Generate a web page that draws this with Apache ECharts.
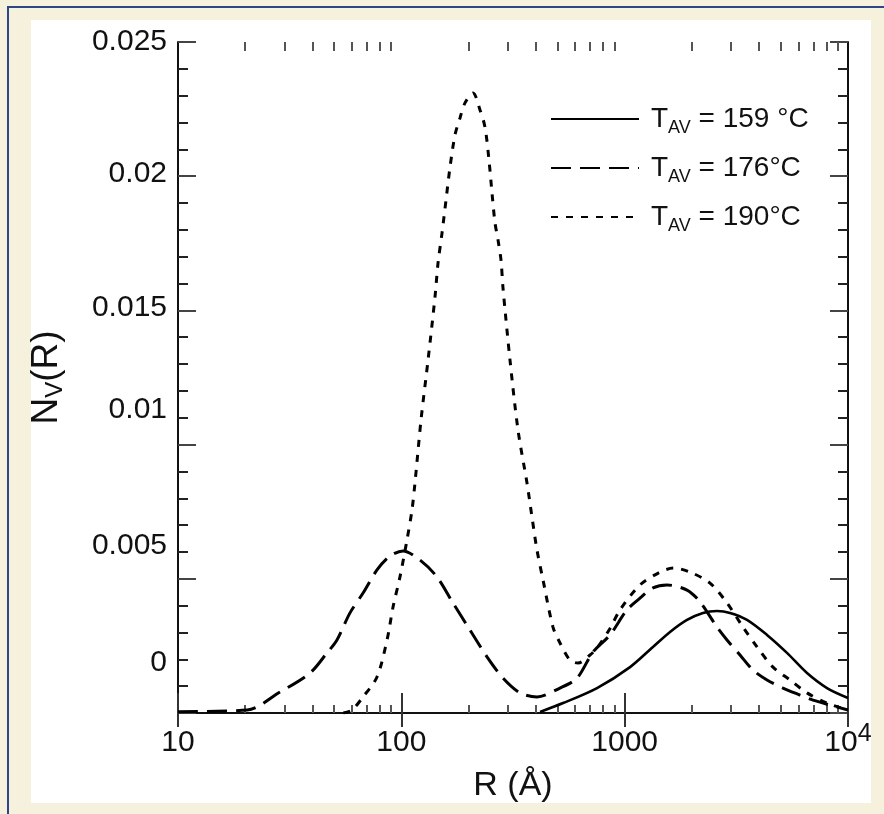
<!DOCTYPE html>
<html>
<head>
<meta charset="UTF-8">
<title>Nv(R) distribution</title>
<script src="https://cdn.jsdelivr.net/npm/echarts@6/dist/echarts.min.js"></script>
<style>
  html, body { margin: 0; padding: 0; width: 884px; height: 814px; background: #f6f1dd; overflow: hidden; }
  #frame { position: absolute; left: 7px; top: 6px; width: 890px; height: 820px;
           border-top: 2px solid #2e4686; border-left: 2px solid #2e4686; }
  #panel { position: absolute; left: 31px; top: 20px; width: 840px; height: 783px; background: #fff; }
  #container { position: absolute; left: 0; top: 0; width: 884px; height: 814px; }
</style>
</head>
<body>
<div id="frame"></div>
<div id="panel"></div>
<div id="container"></div>
<script>
// legend texts
var seriesNames = ['T{sub|AV} = 159 °C', 'T{sub|AV} = 176°C', 'T{sub|AV} = 190°C'];

// [R (Å), Nv(R)]
var solid159 = [
  [418, 0.00004], [530, 0.00037], [752, 0.00093], [1057, 0.00171], [1339, 0.00246],
  [1596, 0.00302], [1902, 0.00347], [2242, 0.00373], [2591, 0.0038], [2962, 0.00373],
  [3530, 0.00347], [4338, 0.00291], [5332, 0.00224], [6553, 0.00149], [8054, 0.00093],
  [10000, 0.00056]
];
var dashed176 = [
  [10, 0.00005], [20.4, 0.00011], [28.6, 0.00078], [39, 0.00149], [46.5, 0.00224],
  [51.5, 0.00272], [58.9, 0.00373], [67.4, 0.00447], [77.8, 0.00533], [89, 0.00585],
  [101.7, 0.00604], [121.2, 0.0057], [144.4, 0.00507], [170.3, 0.0041], [203, 0.00309],
  [241.9, 0.00209], [285.3, 0.0013], [339.9, 0.00075], [405, 0.0006], [513, 0.00093],
  [612, 0.0013], [721, 0.00227], [860, 0.00291], [1024, 0.00384], [1171, 0.00428],
  [1339, 0.00466], [1547, 0.00477], [1902, 0.00458], [2175, 0.00414], [2591, 0.0032],
  [2872, 0.00272], [3284, 0.00216], [3754, 0.0016], [4338, 0.00123], [5116, 0.00093],
  [6097, 0.00067], [6970, 0.00048], [10000, 0.00011]
];
var dotted190 = [
  [55, 0], [60.1, 0.00011], [67.4, 0.0006], [77.8, 0.00134], [86.3, 0.00272],
  [91.8, 0.00395], [98.6, 0.00507], [106, 0.00645], [111.6, 0.00756], [115.1, 0.00857],
  [122.5, 0.01092], [131.7, 0.01315], [141.5, 0.0155], [146, 0.01677], [152.1, 0.01788],
  [158.5, 0.01911], [165.2, 0.02034], [173.9, 0.02154], [183.1, 0.02217], [192.8, 0.02273],
  [209.4, 0.0231], [225, 0.02247], [236.9, 0.02183], [246.9, 0.0206], [254.7, 0.01937],
  [262.7, 0.01826], [271, 0.01762], [279.4, 0.01688], [285.3, 0.01583], [306.6, 0.01315],
  [333, 0.01054], [365.3, 0.00857], [384.6, 0.0073], [405, 0.00607], [430.9, 0.00496],
  [477.6, 0.0032], [513.4, 0.00261], [569.1, 0.00197], [618.1, 0.00186], [699.5, 0.00216],
  [752, 0.00242], [860, 0.00315], [953, 0.00384], [1171, 0.00477], [1440, 0.00525],
  [1655, 0.0054], [1962, 0.00525], [2411, 0.00484], [2872, 0.0041], [3388, 0.0032],
  [3913, 0.00246], [4616, 0.00171], [5500, 0.00123], [6553, 0.00075], [8054, 0.00037],
  [10000, 0.00011]
];

// y tick labels as printed (the figure prints the lower three a little off their ticks)
var yLabelText = ['0.025', '0.02', '0.015', '0.01', '0.005', '0'];
var yLabelAt = [0.025, 0.0201, 0.0151, 0.01129, 0.00622, 0.00186];

var xLabelText = {10: '10', 100: '100', 1000: '1000', 10000: '10{sup|4}'};

// minor log ticks 2..9 per decade, placed on a helper axis in log10 units
var minorLog = [];
for (var d = 1; d < 4; d++) {
  for (var m = 2; m <= 9; m++) minorLog.push(d + Math.log10(m));
}

var font = 'Liberation Sans, Arial, Helvetica, sans-serif';
var axisLine = { show: true, lineStyle: { color: '#111', width: 2 } };

var myChart = echarts.init(document.getElementById('container'), null, { renderer: 'canvas' });

myChart.setOption({
  animation: false,
  backgroundColor: 'transparent',
  grid: { left: 178, top: 42, width: 670, height: 671 },
  legend: {
    left: 545, top: 96, orient: 'vertical',
    itemWidth: 88, itemHeight: 14, itemGap: 13,
    data: seriesNames,
    itemStyle: { opacity: 0 },
    textStyle: {
      fontFamily: font, fontSize: 28, color: '#111', lineHeight: 36, padding: [0, 0, 0, 7],
      rich: { sub: { fontFamily: font, fontSize: 18, verticalAlign: 'bottom', lineHeight: 20 } }
    }
  },
  xAxis: [{
    type: 'log', logBase: 10, min: 10, max: 10000, position: 'bottom',
    axisLine: axisLine,
    axisTick: { inside: true, length: 20, lineStyle: { color: '#333', width: 2 } },
    splitLine: { show: false },
    axisLabel: {
      margin: 9, fontFamily: font, fontSize: 30, color: '#111', lineHeight: 42,
      formatter: function (v) { return xLabelText[Math.round(v)] || ''; },
      rich: { sup: { fontFamily: font, fontSize: 25, verticalAlign: 'top', lineHeight: 22 } }
    },
    name: 'R (Å)', nameLocation: 'middle', nameGap: 50,
    nameTextStyle: { fontFamily: font, fontSize: 34, color: '#111' }
  }, {
    type: 'log', logBase: 10, min: 10, max: 10000, position: 'top',
    axisLine: axisLine,
    axisTick: { inside: true, length: 14, lineStyle: { color: '#333', width: 2 } },
    axisLabel: { show: false }, splitLine: { show: false }
  }, {
    type: 'value', min: 1, max: 4, position: 'bottom',
    axisLine: { show: false },
    axisTick: { inside: true, length: 8, customValues: minorLog, lineStyle: { color: '#555', width: 2 } },
    axisLabel: { show: false }, splitLine: { show: false }
  }, {
    type: 'value', min: 1, max: 4, position: 'top',
    axisLine: { show: false },
    axisTick: { inside: true, length: 9, customValues: minorLog, lineStyle: { color: '#555', width: 2 } },
    axisLabel: { show: false }, splitLine: { show: false }
  }],
  yAxis: [{
    type: 'value', min: 0, max: 0.025, interval: 0.005, position: 'left',
    axisLine: axisLine,
    axisTick: { inside: true, length: 18, lineStyle: { color: '#444', width: 2 } },
    minorTick: { show: true, splitNumber: 5, length: 10, lineStyle: { color: '#222', width: 2 } },
    splitLine: { show: false },
    axisLabel: {
      margin: 11, fontFamily: font, fontSize: 30, color: '#111',
      customValues: yLabelAt,
      formatter: function (v) {
        var best = 0;
        for (var i = 1; i < yLabelAt.length; i++) {
          if (Math.abs(yLabelAt[i] - v) < Math.abs(yLabelAt[best] - v)) best = i;
        }
        return yLabelText[best];
      }
    },
    name: 'N{sub|V}(R)', nameLocation: 'middle', nameRotate: 90, nameGap: 111,
    nameTextStyle: {
      fontFamily: font, fontSize: 37, color: '#111', lineHeight: 40,
      rich: { sub: { fontFamily: font, fontSize: 24, verticalAlign: 'bottom', lineHeight: 22 } }
    }
  }, {
    type: 'value', min: 0, max: 0.025, interval: 0.005, position: 'right',
    axisLine: axisLine,
    axisTick: { inside: true, length: 18, lineStyle: { color: '#444', width: 2 } },
    minorTick: { show: true, splitNumber: 5, length: 10, lineStyle: { color: '#222', width: 2 } },
    splitLine: { show: false },
    axisLabel: { show: false }
  }],
  series: [{
    name: seriesNames[0], type: 'line', data: solid159, smooth: 0.3,
    symbol: 'none', showSymbol: false,
    itemStyle: { color: '#000' },
    lineStyle: { color: '#000', width: 2.6, type: 'solid' }
  }, {
    name: seriesNames[1], type: 'line', data: dashed176, smooth: 0.3,
    symbol: 'none', showSymbol: false,
    itemStyle: { color: '#000' },
    lineStyle: { color: '#000', width: 3, type: [20, 9] }
  }, {
    name: seriesNames[2], type: 'line', data: dotted190, smooth: 0.3,
    symbol: 'none', showSymbol: false,
    itemStyle: { color: '#000' },
    lineStyle: { color: '#000', width: 3, type: [7, 8] }
  }]
});

window.onresize = function () {
  myChart.resize();
};
</script>
</body>
</html>
